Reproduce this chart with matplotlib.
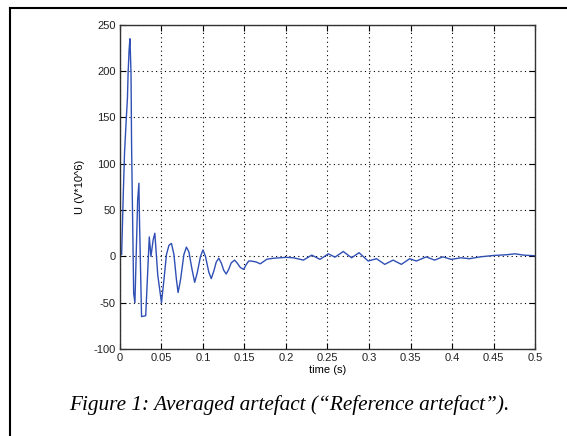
import matplotlib
matplotlib.use('Agg')
import matplotlib.pyplot as plt
from matplotlib.lines import Line2D

# averaged artefact
t = [0.000, 0.002, 0.004, 0.0055, 0.0075, 0.009, 0.0098, 0.011, 0.012, 0.0133,
     0.014, 0.0165, 0.018, 0.0213, 0.0228, 0.0235, 0.026, 0.031, 0.0353, 0.0373,
     0.040, 0.042, 0.0455, 0.050, 0.053, 0.056, 0.059, 0.062, 0.065, 0.068,
     0.070, 0.073, 0.077, 0.080, 0.083, 0.087, 0.090, 0.093, 0.097, 0.100,
     0.103, 0.107, 0.110, 0.113, 0.116, 0.119, 0.122, 0.125, 0.128, 0.131,
     0.134, 0.138, 0.141, 0.145, 0.149, 0.152, 0.155, 0.158, 0.164, 0.169,
     0.177, 0.185, 0.193, 0.200, 0.209, 0.221, 0.231, 0.241, 0.251, 0.259,
     0.269, 0.279, 0.288, 0.299, 0.309, 0.319, 0.329, 0.339, 0.349, 0.357,
     0.369, 0.379, 0.389, 0.399, 0.411, 0.421, 0.434, 0.450, 0.466, 0.476,
     0.486, 0.500]
u = [2, 2, 68, 112, 147, 171, 198, 223, 235, 198,
     118, -40, -50, 61, 79, 40, -65, -64, 21, 0,
     18, 25, -20, -50, -25, 2, 12, 14, 2, -25,
     -39, -25, 2, 10, 5, -15, -28, -18, 0, 7,
     0, -17, -24, -16, -6, -2, -7, -15, -19, -14,
     -7, -4, -7, -12, -14, -9, -5, -5, -6, -8,
     -3, -2, -1.5, -1, -1.5, -4, 1.4, -3.2, 2.8, -0.8,
     5.3, -1.5, 4, -5, -2.5, -8.6, -4, -8.6, -2.5, -5,
     -0.5, -4, -0.5, -3.2, -1.5, -2.5, -0.5, 1, 1.8, 2.8,
     1.4, 0.7]

xticks = [0, 0.05, 0.1, 0.15, 0.2, 0.25, 0.3, 0.35, 0.4, 0.45, 0.5]
xtick_labels = ['0', '0.05', '0.1', '0.15', '0.2', '0.25', '0.3', '0.35',
                '0.4', '0.45', '0.5']
yticks = [-100, -50, 0, 50, 100, 150, 200, 250]

plt.rcParams['font.family'] = ['Liberation Sans', 'DejaVu Sans']
plt.rcParams['axes.unicode_minus'] = False

fig = plt.figure(figsize=(5.67, 4.36), dpi=100)
ax = fig.add_axes([0.2116, 0.1995, 0.732, 0.7435])

ax.plot(t, u, color='#2f4fb5', lw=1.0)

ax.set_xlim(0, 0.5)
ax.set_ylim(-100, 250)
ax.set_xticks(xticks)
ax.set_xticklabels(xtick_labels)
ax.set_yticks(yticks)
ax.tick_params(direction='in', top=True, right=True, labelsize=8,
               length=4, width=0.8, pad=3, labelcolor='#222222')
ax.grid(True, color='black', linestyle=(0, (1, 3)), linewidth=0.8)
for s in ax.spines.values():
    s.set_linewidth(1.0)
    s.set_color('#333333')

ax.set_xlabel('time (s)', fontsize=8, labelpad=1)
ax.set_ylabel('U (V*10^6)', fontsize=8, labelpad=6)

# caption under the chart
fig.text(0.51, 0.071, 'Figure 1: Averaged artefact (\u201cReference artefact\u201d).',
         ha='center', va='center', fontsize=15.3, style='italic',
         family='Liberation Serif')

# frame lines (top and left) of the page box
fig.add_artist(Line2D([10 / 567, 1.0], [1 - 8 / 436, 1 - 8 / 436],
                      color='black', lw=1.5, transform=fig.transFigure))
fig.add_artist(Line2D([10 / 567, 10 / 567], [0.0, 1 - 8 / 436],
                      color='black', lw=1.5, transform=fig.transFigure))

fig.savefig('out.png', dpi=100)
